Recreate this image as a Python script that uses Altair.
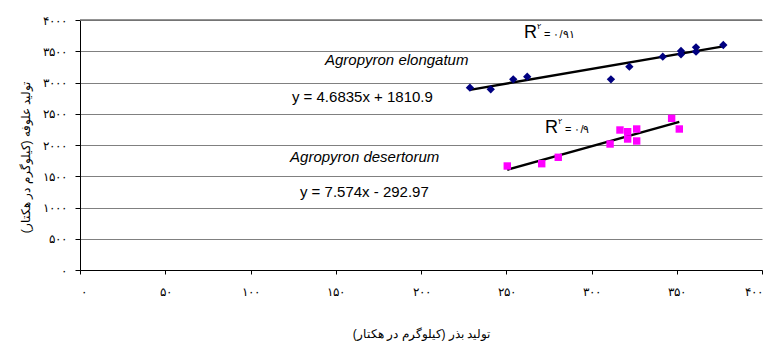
import altair as alt
import pandas as pd

# --- data ---
elong_x = [228.7, 240.9, 254.1, 262.3, 311.4, 322.2, 341.8, 352.5, 352.5, 361.3, 361.3, 377.3]
elong_y = [2917, 2891, 3051, 3093, 3051, 3253, 3413, 3504, 3451, 3563, 3493, 3600]
desert_x = [250.6, 270.8, 280.5, 310.9, 316.7, 321.2, 321.2, 326.5, 326.5, 347.0, 351.5]
desert_y = [1664, 1701, 1803, 2016, 2240, 2213, 2096, 2256, 2064, 2427, 2256]

series_names = ["Agropyron elongatum", "Agropyron desertorum"]
slopes = [4.6835, 7.574]
intercepts = [1810.9, -292.97]
equations = ["y = 4.6835x + 1810.9", "y = 7.574x - 292.97"]
r2_texts = ["= ۰/۹۱", "= ۰/۹"]

x_tick_values = [0, 50, 100, 150, 200, 250, 300, 350, 400]
x_tick_labels = ["۰", "۵۰", "۱۰۰", "۱۵۰", "۲۰۰", "۲۵۰", "۳۰۰", "۳۵۰", "۴۰۰"]
y_tick_values = [0, 500, 1000, 1500, 2000, 2500, 3000, 3500, 4000]
y_tick_labels = ["۰", "۵۰۰", "۱۰۰۰", "۱۵۰۰", "۲۰۰۰", "۲۵۰۰", "۳۰۰۰", "۳۵۰۰", "۴۰۰۰"]

x_title = "تولید بذر (کیلوگرم در هکتار)"
y_title = "تولید علوفه (کیلوگرم در هکتار)"

# annotation anchor positions (data units)
name_pos = [(143.7, 3360), (123.2, 1808)]
eq_pos = [(124.3, 2768), (129.0, 1248)]
r_pos = [(260.4, 3792), (272.7, 2272)]

# --- build tables ---
pts_e = pd.DataFrame({"x": elong_x, "y": elong_y})
pts_d = pd.DataFrame({"x": desert_x, "y": desert_y})

fit_rows = []
for i, xs in enumerate([elong_x, desert_x]):
    for xv in (min(xs), max(xs)):
        fit_rows.append({"s": series_names[i], "x": xv, "y": slopes[i] * xv + intercepts[i]})
fits = pd.DataFrame(fit_rows)

names_df = pd.DataFrame({"x": [p[0] for p in name_pos], "y": [p[1] for p in name_pos], "t": series_names})
eq_df = pd.DataFrame({"x": [p[0] for p in eq_pos], "y": [p[1] for p in eq_pos], "t": equations})
r_df = pd.DataFrame({"x": [p[0] for p in r_pos], "y": [p[1] for p in r_pos], "t": r2_texts})
top_df = pd.DataFrame({"y": [float(max(y_tick_values))], "x": [0.0], "x2": [400.0]})

x_label_expr = "[" + ",".join("'%s'" % s for s in x_tick_labels) + "][round(datum.value/50)]"
y_label_expr = "[" + ",".join("'%s'" % s for s in y_tick_labels) + "][round(datum.value/500)]"

FONT = "Liberation Sans"

xscale = alt.Scale(domain=[0, 400], nice=False, zero=False)
yscale = alt.Scale(domain=[0, 4000], nice=False)

x_axis = alt.Axis(
    values=x_tick_values, labelExpr=x_label_expr, title=x_title, grid=False,
    labelOverlap=False, domainColor="#000000", tickColor="#000000", tickSize=4, labelPadding=12,
    labelFontSize=12, labelFont=FONT, labelColor="#000000",
    titleFont=FONT, titleFontSize=12, titleFontWeight="normal", titleColor="#000000",
    titleY=63, titleX=341, titleBaseline="middle")
y_axis = alt.Axis(
    values=y_tick_values, labelExpr=y_label_expr, title=y_title, grid=True,
    labelOverlap=False, gridColor="#808080", gridWidth=1, domainColor="#000000", tickColor="#000000",
    tickSize=5, labelPadding=9, labelFontSize=12, labelFont=FONT, labelColor="#000000",
    titleFont=FONT, titleFontSize=12, titleFontWeight="normal", titleColor="#000000",
    titleX=-55, titleY=137, titleAngle=-90, titleBaseline="middle", titleAlign="center")

X = alt.X("x:Q", scale=xscale, axis=x_axis)
Y = alt.Y("y:Q", scale=yscale, axis=y_axis)

top_rule = alt.Chart(top_df).mark_rule(color="#707070", strokeWidth=1.6, clip=False).encode(
    x=X, x2="x2:Q", y=Y)

elong = alt.Chart(pts_e).mark_point(shape="diamond", filled=True, size=70, color="#000080", opacity=1).encode(x=X, y=Y)
desert = alt.Chart(pts_d).mark_square(size=55, color="#FF00FF", opacity=1).encode(x=X, y=Y)

fit_lines = alt.Chart(fits).mark_line(color="#000000", strokeWidth=2.5).encode(
    x=X, y=Y, detail="s:N")

names = alt.Chart(names_df).mark_text(align="left", baseline="middle", font=FONT, fontSize=15,
                                      fontStyle="italic", color="#000000").encode(x=X, y=Y, text="t:N")
eqs = alt.Chart(eq_df).mark_text(align="left", baseline="middle", font=FONT, fontSize=15,
                                 color="#000000").encode(x=X, y=Y, text="t:N")
r_big = alt.Chart(r_df).mark_text(align="left", baseline="middle", font=FONT, fontSize=18,
                                  color="#000000", text="R").encode(x=X, y=Y)
r_sup = alt.Chart(r_df).mark_text(align="left", baseline="middle", font=FONT, fontSize=8,
                                  color="#000000", text="۲", dx=13, dy=-6).encode(x=X, y=Y)
r_val = alt.Chart(r_df).mark_text(align="left", baseline="middle", font=FONT, fontSize=11,
                                  color="#000000", dx=20, dy=2).encode(x=X, y=Y, text="t:N")

chart = alt.layer(fit_lines, elong, desert, names, eqs, r_big, r_sup, r_val, top_rule).properties(
    width=682, height=250,
    autosize=alt.AutoSizeParams(type="none"),
    padding={"left": 72, "top": 12, "right": 4, "bottom": 80},
    background="#ffffff",
).configure_view(stroke=None)

chart.save("out.html", embed_options={"renderer": "svg", "actions": False})
